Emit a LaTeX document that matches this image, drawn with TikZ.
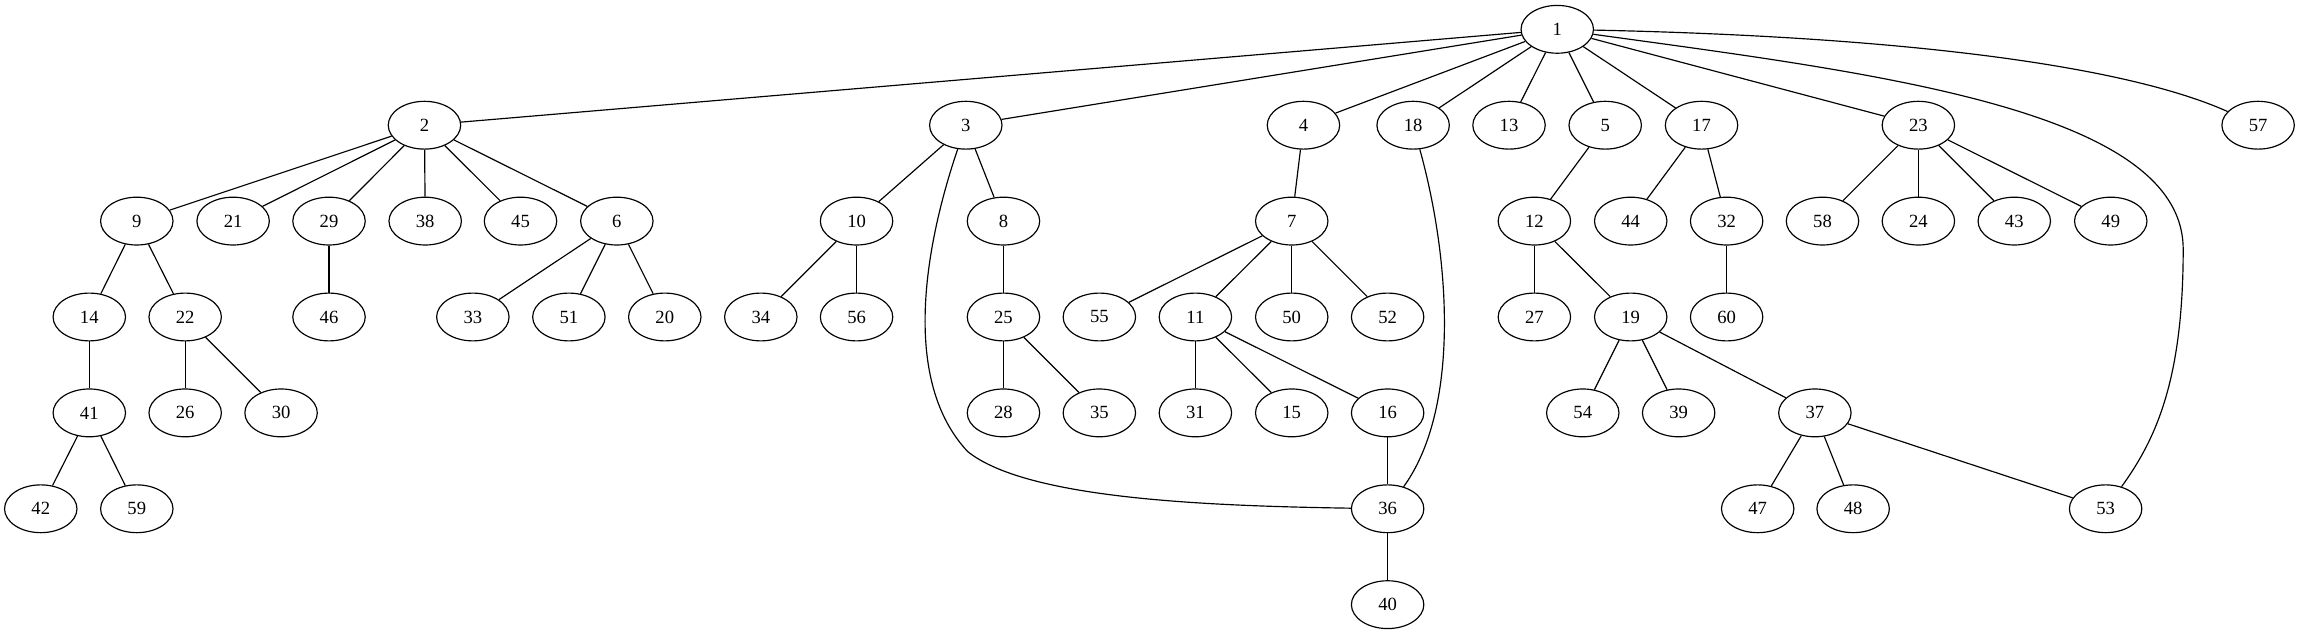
\documentclass[tikz,border=0pt]{standalone}
\usepackage{fontspec}
\setmainfont{Liberation Serif}
\usetikzlibrary{shapes.geometric}
\begin{document}
\begin{tikzpicture}[x=1pt,y=-1pt,
  nd/.style={draw,ellipse,minimum width=49.4pt,minimum height=32.6pt,inner sep=0pt,line width=0.8pt,font=\fontsize{12.7}{14}\selectfont},
  ed/.style={line width=0.8pt}]
\useasboundingbox (0,0) rectangle (1568,433);
% row 0
\node[nd] (n1) at (1062.1,20) {1};
% row 1
\node[nd] (n2) at (289.5,85.4) {2};
\node[nd] (n3) at (658.7,85.4) {3};
\node[nd] (n4) at (889,85.4) {4};
\node[nd] (n18) at (963.8,85.4) {18};
\node[nd] (n13) at (1029.2,85.4) {13};
\node[nd] (n5) at (1094.8,85.4) {5};
\node[nd] (n17) at (1160.5,85.4) {17};
\node[nd] (n23) at (1308.4,85.4) {23};
\node[nd] (n57) at (1540.1,85.4) {57};
% row 2
\node[nd] (n9) at (93.3,150.8) {9};
\node[nd] (n21) at (159,150.8) {21};
\node[nd] (n29) at (224.4,150.8) {29};
\node[nd] (n38) at (290,150.8) {38};
\node[nd] (n45) at (355,150.8) {45};
\node[nd] (n6) at (420.7,150.8) {6};
\node[nd] (n10) at (584.2,150.8) {10};
\node[nd] (n8) at (684.4,150.8) {8};
\node[nd] (n7) at (881,150.8) {7};
\node[nd] (n12) at (1046.5,150.8) {12};
\node[nd] (n44) at (1112.2,150.8) {44};
\node[nd] (n32) at (1177.6,150.8) {32};
\node[nd] (n58) at (1243,150.8) {58};
\node[nd] (n24) at (1308.4,150.8) {24};
\node[nd] (n43) at (1373.8,150.8) {43};
\node[nd] (n49) at (1439.6,150.8) {49};
% row 3
\node[nd] (n14) at (60.9,216.2) {14};
\node[nd] (n22) at (126.3,216.2) {22};
\node[nd] (n46) at (224.4,216.2) {46};
\node[nd] (n33) at (322.5,216.2) {33};
\node[nd] (n51) at (388,216.2) {51};
\node[nd] (n20) at (453.4,216.2) {20};
\node[nd] (n34) at (518.9,216.2) {34};
\node[nd] (n56) at (584.2,216.2) {56};
\node[nd] (n25) at (684.4,216.2) {25};
\node[nd] (n55) at (749.8,216.2) {55};
\node[nd] (n11) at (815.3,216.2) {11};
\node[nd] (n50) at (881,216.2) {50};
\node[nd] (n52) at (946.4,216.2) {52};
\node[nd] (n27) at (1046.5,216.2) {27};
\node[nd] (n19) at (1112.2,216.2) {19};
\node[nd] (n60) at (1177.6,216.2) {60};
% row 4
\node[nd] (n41) at (60.9,281.6) {41};
\node[nd] (n26) at (126.3,281.6) {26};
\node[nd] (n30) at (191.7,281.6) {30};
\node[nd] (n28) at (684.4,281.6) {28};
\node[nd] (n35) at (749.8,281.6) {35};
\node[nd] (n31) at (815.3,281.6) {31};
\node[nd] (n15) at (881,281.6) {15};
\node[nd] (n16) at (946.4,281.6) {16};
\node[nd] (n54) at (1079.5,281.6) {54};
\node[nd] (n39) at (1144.9,281.6) {39};
\node[nd] (n37) at (1237.8,281.6) {37};
% row 5
\node[nd] (n42) at (27.8,347) {42};
\node[nd] (n59) at (93.3,347) {59};
\node[nd] (n36) at (946.4,347) {36};
\node[nd] (n47) at (1198.8,347) {47};
\node[nd] (n48) at (1263.9,347) {48};
\node[nd] (n53) at (1436.1,347) {53};
% row 6
\node[nd] (n40) at (946.4,412.4) {40};
% edges
\foreach \a/\b in {1/2,1/3,1/4,1/18,1/13,1/5,1/17,1/23,
  2/9,2/21,2/29,2/38,2/45,2/6,9/14,9/22,14/41,41/42,41/59,22/26,22/30,29/46,
  6/33,6/51,6/20,3/10,3/8,10/34,10/56,8/25,25/28,25/35,4/7,7/55,7/11,7/50,7/52,
  11/31,11/15,11/16,16/36,36/40,5/12,12/27,12/19,19/54,19/39,19/37,37/47,37/48,37/53,
  17/44,17/32,32/60,23/58,23/24,23/43,23/49}
  \draw[ed] (n\a) -- (n\b);
\draw[ed] (n3) .. controls (630,170) and (615,260) .. (660,308) .. controls (700,340) and (820,345) .. (n36);
\draw[ed] (n18) .. controls (990,180) and (995,280) .. (n36);
\draw[ed] (n1) .. controls (1280,50) and (1489,75) .. (1489,170) .. controls (1489,260) and (1470,300) .. (n53);
\draw[ed] (n1) .. controls (1300,25) and (1450,45) .. (n57);
\end{tikzpicture}
\end{document}
